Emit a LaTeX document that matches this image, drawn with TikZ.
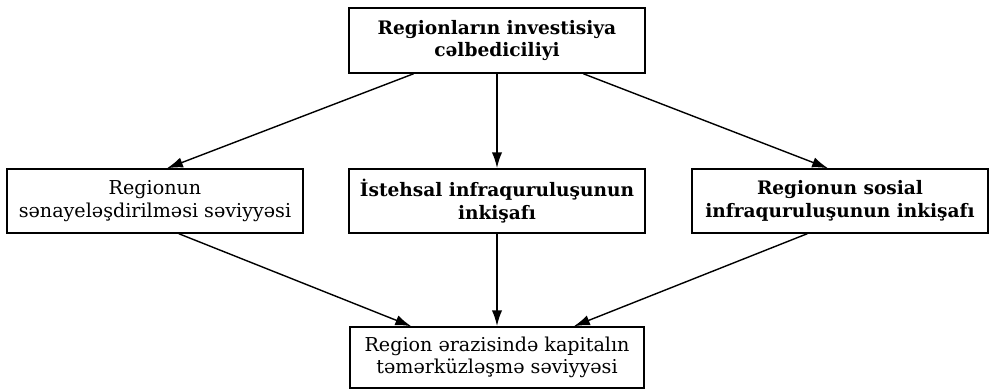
\documentclass[tikz,border=0pt]{standalone}
\usepackage{fontspec}
\setmainfont{DejaVu Serif}
\usetikzlibrary{arrows.meta,calc}
\newlength{\pxu}
\setlength{\pxu}{0.025cm}
\tikzset{
  box/.style={draw, line width=1pt, minimum width=296\pxu, align=center,
    inner sep=2pt, font=\fontsize{13.6}{16}\selectfont},
  boldbox/.style={box, font=\bfseries\fontsize{13.2}{16}\selectfont},
  link/.style={-{Latex[length=4mm,width=2.6mm]}, line width=1pt}
}
\begin{document}
\begin{tikzpicture}[x=0.025cm, y=-0.025cm]
  \useasboundingbox (0,0) rectangle (992,392);
  % top
  \node[boldbox, minimum height=65\pxu] (top) at (497,40.5)
    {Regionların investisiya\\cəlbediciliyi};
  % middle row
  \node[box, minimum height=64\pxu] (sen) at (155,201)
    {Regionun\\sənayeləşdirilməsi səviyyəsi};
  \node[boldbox, minimum height=64\pxu] (ist) at (497,201)
    {\.{I}stehsal infraquruluşunun\\inkişafı};
  \node[boldbox, minimum height=64\pxu] (sos) at (840,201)
    {Regionun sosial\\infraquruluşunun inkişafı};
  % bottom
  \node[box, minimum width=294\pxu, minimum height=61\pxu] (kap) at (497,357.5)
    {Region ərazisində kapitalın\\təmərküzləşmə səviyyəsi};
  % arrows from top
  \draw[link] ($(top.south west)!0.22!(top.south east)$) -- ($(sen.north west)!0.54!(sen.north east)$);
  \draw[link, line width=1.4pt] (top.south) -- (ist.north);
  \draw[link] ($(top.south west)!0.79!(top.south east)$) -- ($(sos.north west)!0.46!(sos.north east)$);
  % arrows to bottom
  \draw[link] ($(sen.south west)!0.58!(sen.south east)$) -- ($(kap.north west)!0.21!(kap.north east)$);
  \draw[link, line width=1.4pt] (ist.south) -- (kap.north);
  \draw[link] ($(sos.south west)!0.39!(sos.south east)$) -- ($(kap.north west)!0.76!(kap.north east)$);
\end{tikzpicture}
\end{document}
